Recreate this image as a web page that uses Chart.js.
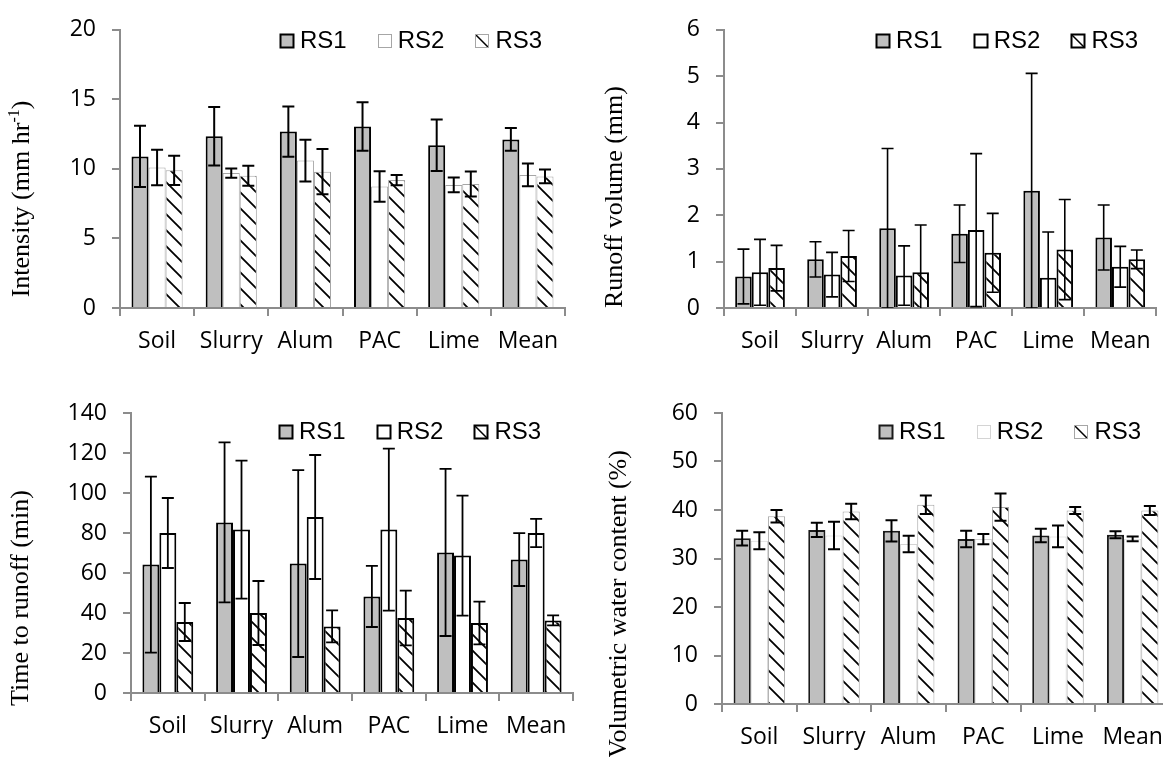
<!DOCTYPE html>
<html><head><meta charset="utf-8">
<script src="https://cdn.jsdelivr.net/npm/chart.js@4.4.1/dist/chart.umd.min.js"></script>
<style>
html,body{margin:0;padding:0;background:#fff;overflow:hidden;width:1163px;height:757px;position:relative;}
.p{position:absolute;}
canvas{display:block;}
</style></head><body>
<div class="p" style="left:0px;top:0px"><canvas id="c1" width="580" height="370"></canvas></div>
<div class="p" style="left:580px;top:0px"><canvas id="c2" width="583" height="370"></canvas></div>
<div class="p" style="left:0px;top:370px"><canvas id="c3" width="580" height="387"></canvas></div>
<div class="p" style="left:580px;top:370px"><canvas id="c4" width="600" height="387"></canvas></div>
<script>
// ---- data ----
const categories = ['Soil', 'Slurry', 'Alum', 'PAC', 'Lime', 'Mean'];
const seriesNames = ['RS1', 'RS2', 'RS3'];

// Intensity (mm hr-1)
const intensityRS1 = [10.9, 12.35, 12.68, 13.05, 11.7, 12.12];
const intensityRS2 = [10.1, 9.7, 10.6, 8.73, 8.85, 9.57];
const intensityRS3 = [9.9, 9.5, 9.8, 9.2, 8.92, 9.46];
const intensityErrRS1 = [2.2, 2.1, 1.8, 1.75, 1.85, 0.82];
const intensityErrRS2 = [1.28, 0.33, 1.5, 1.1, 0.53, 0.81];
const intensityErrRS3 = [1.05, 0.72, 1.63, 0.37, 0.9, 0.5];

// Runoff volume (mm)
const runoffRS1 = [0.68, 1.05, 1.72, 1.6, 2.53, 1.52];
const runoffRS2 = [0.77, 0.72, 0.70, 1.68, 0.65, 0.89];
const runoffRS3 = [0.86, 1.12, 0.77, 1.19, 1.26, 1.05];
const runoffErrRS1 = [0.59, 0.38, 1.72, 0.62, 2.53, 0.70];
const runoffErrRS2 = [0.71, 0.48, 0.64, 1.65, 0.99, 0.44];
const runoffErrRS3 = [0.49, 0.55, 1.02, 0.85, 1.08, 0.20];

// Time to runoff (min)
const timeRS1 = [64.2, 85.3, 64.7, 48.3, 70.3, 66.7];
const timeRS2 = [80, 81.7, 88, 81.7, 68.7, 80];
const timeRS3 = [35.5, 40, 33.3, 37.5, 35, 36.3];
const timeErrRS1 = [44, 40, 46.7, 15.3, 41.8, 13.2];
const timeErrRS2 = [17.5, 34.5, 31, 40.5, 30, 7.1];
const timeErrRS3 = [9.5, 16, 8, 13.7, 10.7, 2.5];

// Volumetric water content (%)
const vwcRS1 = [34.2, 35.9, 35.7, 34.0, 34.75, 34.9];
const vwcRS2 = [33.65, 34.75, 33.0, 34.0, 34.55, 34.05];
const vwcRS3 = [38.7, 39.7, 41.1, 40.6, 39.9, 39.9];
const vwcErrRS1 = [1.5, 1.45, 2.2, 1.7, 1.4, 0.7];
const vwcErrRS2 = [1.75, 2.85, 1.7, 1.05, 2.25, 0.5];
const vwcErrRS3 = [1.3, 1.6, 1.9, 2.8, 0.7, 0.95];

// axis ticks
const intensityTicks = {max: 20, step: 5};
const runoffTicks = {max: 6, step: 1};
const timeTicks = {max: 140, step: 20};
const vwcTicks = {max: 60, step: 10};

// axis titles (parts, sup = superscript)
const intensityTitle = [{t: 'Intensity (mm hr'}, {t: '-1', sup: true}, {t: ')'}];
const runoffTitle = [{t: 'Runoff volume (mm)'}];
const timeTitle = [{t: 'Time to runoff (min)'}];
const vwcTitle = [{t: 'Volumetric water content (%)'}];

// ---- styling ----
const GRAY = '#bfbfbf';
const AXIS = '#8c8c8c';
const TICK_FONT = {family: '"Open Sans", sans-serif', size: 23};
const LEGEND_FONT = '24px "Liberation Sans", Arial, sans-serif';
const TITLE_FONT_SIZE = 26;
const TITLE_FAMILY = '"Liberation Serif", "Times New Roman", serif';

function makeHatch(ctx) {
  const c = document.createElement('canvas');
  c.width = 16; c.height = 16;
  const g = c.getContext('2d');
  g.fillStyle = '#fff'; g.fillRect(0, 0, 16, 16);
  g.strokeStyle = '#000'; g.lineWidth = 1.8;
  g.beginPath();
  g.moveTo(-2, -2); g.lineTo(18, 18);
  g.moveTo(-2, 14); g.lineTo(2, 18);
  g.moveTo(14, -2); g.lineTo(18, 2);
  g.stroke();
  return ctx.createPattern(c, 'repeat');
}

const styleSets = {
  light: [
    {fill: 'gray', border: '#000', bw: 2},
    {fill: 'white', border: '#a6a6a6', bw: 1},
    {fill: 'hatch', border: '#a6a6a6', bw: 1}
  ],
  dark: [
    {fill: 'gray', border: '#000', bw: 2},
    {fill: 'white', border: '#000', bw: 2},
    {fill: 'hatch', border: '#000', bw: 2}
  ],
  vwc: [
    {fill: 'gray', border: '#1a1a1a', bw: 2},
    {fill: 'white', border: '#d4d4d4', bw: 1},
    {fill: 'hatch', border: '#a6a6a6', bw: 1}
  ]
};

const panels = [
  {id: 'c1', yW: 120, padT: 21, padR: 15, xH: 62, ticks: intensityTicks,
   values: [intensityRS1, intensityRS2, intensityRS3],
   errs: [intensityErrRS1, intensityErrRS2, intensityErrRS3],
   title: intensityTitle, titleX: 29, titleY: 199, legendX: 280, legendY: 40,
   style: styleSets.light, errW: 2},
  {id: 'c2', yW: 144, padT: 21, padR: 6, xH: 62, ticks: runoffTicks,
   values: [runoffRS1, runoffRS2, runoffRS3],
   errs: [runoffErrRS1, runoffErrRS2, runoffErrRS3],
   title: runoffTitle, titleX: 42, titleY: 197, legendX: 296, legendY: 40,
   style: styleSets.dark, errW: 1.6},
  {id: 'c3', yW: 131, padT: 43, padR: 7, xH: 64, ticks: timeTicks,
   values: [timeRS1, timeRS2, timeRS3],
   errs: [timeErrRS1, timeErrRS2, timeErrRS3],
   title: timeTitle, titleX: 28, titleY: 228, legendX: 279, legendY: 61,
   style: styleSets.dark, errW: 1.8},
  {id: 'c4', yW: 142, padT: 43, padR: 10, xH: 53, ticks: vwcTicks,
   values: [vwcRS1, vwcRS2, vwcRS3],
   errs: [vwcErrRS1, vwcErrRS2, vwcErrRS3],
   title: vwcTitle, titleX: 46, titleY: 234, legendX: 299, legendY: 61,
   style: styleSets.vwc, errW: 2}
];

const errorBarPlugin = {
  id: 'errbars',
  afterDatasetsDraw(chart, args, opts) {
    const ctx = chart.ctx, ys = chart.scales.y, a = chart.chartArea;
    ctx.save();
    ctx.beginPath();
    ctx.rect(a.left, a.top - 20, a.right - a.left, a.bottom - a.top + 20);
    ctx.clip();
    ctx.strokeStyle = '#000';
    ctx.lineWidth = opts.width;
    chart.data.datasets.forEach((ds, i) => {
      const meta = chart.getDatasetMeta(i);
      meta.data.forEach((bar, j) => {
        const v = ds.data[j], e = opts.errs[i][j];
        const yT = ys.getPixelForValue(v + e);
        const yB = ys.getPixelForValue(v - e);
        const x = bar.x, hw = 6;
        ctx.beginPath();
        ctx.moveTo(x, yT); ctx.lineTo(x, yB);
        ctx.moveTo(x - hw, yT); ctx.lineTo(x + hw, yT);
        ctx.moveTo(x - hw, yB); ctx.lineTo(x + hw, yB);
        ctx.stroke();
      });
    });
    ctx.restore();
  }
};

const legendPlugin = {
  id: 'boxlegend',
  afterDraw(chart, args, opts) {
    const ctx = chart.ctx;
    ctx.save();
    ctx.font = LEGEND_FONT;
    ctx.textBaseline = 'middle';
    ctx.textAlign = 'left';
    let x = opts.x;
    const y = opts.y, s = 13;
    seriesNames.forEach((name, i) => {
      const st = opts.style[i];
      const bx = Math.round(x) + 0.5, by = Math.round(y - s / 2) + 0.5;
      ctx.fillStyle = st.fill === 'gray' ? GRAY : '#fff';
      ctx.fillRect(bx, by, s, s);
      if (st.fill === 'hatch') {
        ctx.strokeStyle = '#000'; ctx.lineWidth = 1.5;
        ctx.beginPath(); ctx.moveTo(bx, by); ctx.lineTo(bx + s, by + s); ctx.stroke();
      }
      ctx.strokeStyle = st.border; ctx.lineWidth = st.bw;
      ctx.strokeRect(bx, by, s, s);
      ctx.fillStyle = '#000';
      ctx.fillText(name, x + s + 7, y + 1);
      x += s + 7 + ctx.measureText(name).width + 31;
    });
    ctx.restore();
  }
};

const titlePlugin = {
  id: 'ytitle',
  afterDraw(chart, args, opts) {
    const ctx = chart.ctx;
    ctx.save();
    ctx.translate(opts.x, opts.y);
    ctx.rotate(-Math.PI / 2);
    ctx.fillStyle = '#000';
    ctx.textBaseline = 'alphabetic';
    ctx.textAlign = 'left';
    const main = TITLE_FONT_SIZE + 'px ' + TITLE_FAMILY;
    const sup = Math.round(TITLE_FONT_SIZE * 0.6) + 'px ' + TITLE_FAMILY;
    let total = 0;
    opts.parts.forEach(p => { ctx.font = p.sup ? sup : main; total += ctx.measureText(p.t).width; });
    let x = -total / 2;
    opts.parts.forEach(p => {
      ctx.font = p.sup ? sup : main;
      ctx.fillText(p.t, x, p.sup ? -TITLE_FONT_SIZE * 0.38 : 0);
      x += ctx.measureText(p.t).width;
    });
    ctx.restore();
  }
};

panels.forEach(p => {
  const canvas = document.getElementById(p.id);
  const ctx = canvas.getContext('2d');
  const hatch = makeHatch(ctx);
  const datasets = seriesNames.map((name, i) => {
    const st = p.style[i];
    return {
      label: name,
      data: p.values[i],
      backgroundColor: st.fill === 'gray' ? GRAY : (st.fill === 'hatch' ? hatch : '#ffffff'),
      borderColor: st.border,
      borderWidth: st.bw,
      borderSkipped: 'start',
      categoryPercentage: 0.69,
      barPercentage: 1.0
    };
  });
  new Chart(ctx, {
    type: 'bar',
    data: {labels: categories, datasets},
    options: {
      responsive: false,
      animation: false,
      layout: {padding: {left: 0, top: p.padT, right: p.padR, bottom: 0}},
      plugins: {
        legend: {display: false},
        tooltip: {enabled: false},
        errbars: {errs: p.errs, width: p.errW},
        boxlegend: {x: p.legendX, y: p.legendY, style: p.style},
        ytitle: {parts: p.title, x: p.titleX, y: p.titleY}
      },
      scales: {
        x: {
          afterFit: s => { s.height = p.xH; },
          grid: {display: true, drawOnChartArea: false, drawTicks: true, tickLength: 8, color: AXIS, lineWidth: 2, offset: true},
          border: {display: true, color: AXIS, width: 2},
          ticks: {color: '#000', font: TICK_FONT, padding: 12, maxRotation: 0, autoSkip: false}
        },
        y: {
          min: 0, max: p.ticks.max,
          afterFit: s => { s.width = p.yW; },
          grid: {display: true, drawOnChartArea: false, drawTicks: true, tickLength: 8, color: AXIS, lineWidth: 2},
          border: {display: true, color: AXIS, width: 2},
          ticks: {color: '#000', font: TICK_FONT, padding: 16, stepSize: p.ticks.step}
        }
      }
    },
    plugins: [errorBarPlugin, legendPlugin, titlePlugin]
  });
});
</script>
</body></html>
